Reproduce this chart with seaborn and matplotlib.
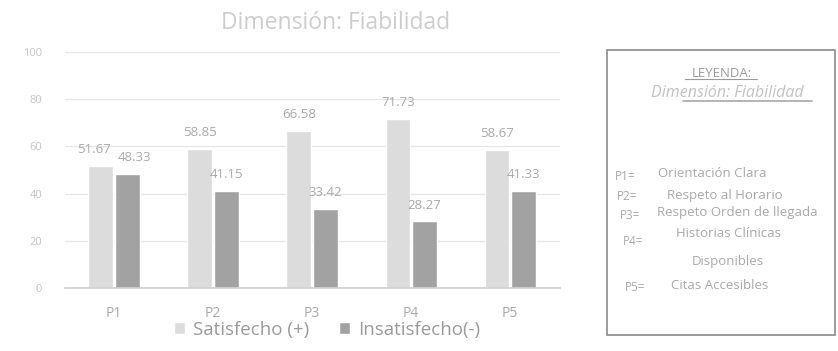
import matplotlib
matplotlib.use("Agg")
import matplotlib.pyplot as plt
from matplotlib.patches import Rectangle
import pandas as pd
import seaborn as sns

# Survey results, dimension "Fiabilidad" (percentages)
preguntas = ["P1", "P2", "P3", "P4", "P5"]
satisfecho = [51.67, 58.85, 66.58, 71.73, 58.67]
insatisfecho = [48.33, 41.15, 33.42, 28.27, 41.33]
series = ["Satisfecho (+)", "Insatisfecho(-)"]
y_ticks = [0, 20, 40, 60, 80, 100]

titulo = "Dimensión: Fiabilidad"
leyenda_items = [
    ("P1=", ["Orientación Clara"]),
    ("P2=", ["Respeto al Horario"]),
    ("P3=", ["Respeto Orden de llegada"]),
    ("P4=", ["Historias Clínicas", "Disponibles"]),
    ("P5=", ["Citas Accesibles"]),
]

df = pd.DataFrame({
    "pregunta": preguntas * 2,
    "valor": satisfecho + insatisfecho,
    "serie": [series[0]] * len(preguntas) + [series[1]] * len(preguntas),
})

sns.set_theme(style="white")
plt.rcParams["font.family"] = ["Open Sans", "DejaVu Sans"]

txt = "#a9a9a9"
colores = ["#dcdcdc", "#a2a2a2"]
fig = plt.figure(figsize=(8.38, 3.51), dpi=100)
ax = fig.add_axes([0.077, 0.1795, 0.591, 0.672])

sns.barplot(data=df, x="pregunta", y="valor", hue="serie",
            palette=colores, width=0.54, gap=0.08,
            ax=ax, legend=False, saturation=1)

# value labels; the first pair sits close together, so spread it sideways
for k, cont in enumerate(ax.containers):
    anns = ax.bar_label(cont, fmt="%.2f", padding=7, fontsize=9.5, color=txt)
    anns[0].xyann = (-5 if k == 0 else 5, 7)

ax.set_ylim(0, 100)
ax.set_yticks(y_ticks)
ax.yaxis.grid(True, color="#e6e6e6", lw=0.9)
ax.set_axisbelow(True)
ax.set_xlabel("")
ax.set_ylabel("")
for s in ["left", "right", "top"]:
    ax.spines[s].set_visible(False)
ax.spines["bottom"].set_color("#d0d0d0")
ax.tick_params(axis="both", length=0, colors=txt)
ax.tick_params(axis="x", pad=13, labelsize=10)
ax.tick_params(axis="y", pad=16, labelsize=8, colors="#c4c4c4")

fig.text(0.40, 0.934, titulo, ha="center", va="center", fontsize=16.5, color="#cdcdcd")

handles = [Rectangle((0, 0), 1, 1, fc=c) for c in colores]
fig.legend(handles, series, loc="center", bbox_to_anchor=(0.39, 0.06), ncol=2,
           frameon=False, fontsize=13.5, labelcolor="#9a9a9a", handlelength=0.6,
           handleheight=0.6, columnspacing=1.6, handletextpad=0.4)

# Side legend box with the meaning of each question
fig.patches.append(Rectangle((0.724, 0.046), 0.273, 0.812, transform=fig.transFigure,
                             fill=False, ec="#8a8a8a", lw=1.2))
fig.text(0.861, 0.792, "LEYENDA:", ha="center", va="center", fontsize=9.5, color="#9a9a9a")
fig.add_artist(plt.Line2D([0.818, 0.903], [0.774, 0.774], transform=fig.transFigure,
                          color="#9a9a9a", lw=0.8))
fig.text(0.868, 0.735, "Dimensión: Fiabilidad", ha="center", va="center", fontsize=11.5,
         style="italic", color="#c2c2c2")
fig.add_artist(plt.Line2D([0.815, 0.969], [0.713, 0.713], transform=fig.transFigure,
                          color="#a8a8a8", lw=1.2))

desc_x = [[0.850], [0.865], [0.880], [0.869, 0.869], [0.859]]
desc_y = [[0.507], [0.444], [0.396], [0.336, 0.256], [0.188]]
clave_x = [0.734, 0.736, 0.740, 0.743, 0.746]
clave_y = [0.496, 0.439, 0.385, 0.311, 0.180]
for (clave, lineas), xs, ys, kx, ky in zip(leyenda_items, desc_x, desc_y, clave_x, clave_y):
    fig.text(kx, ky, clave, ha="left", va="center", fontsize=8.5, color=txt)
    for ln, xx, yy in zip(lineas, xs, ys):
        fig.text(xx, yy, ln, ha="center", va="center", fontsize=9.5, color=txt)

fig.savefig("out.png", dpi=100, facecolor="white")
